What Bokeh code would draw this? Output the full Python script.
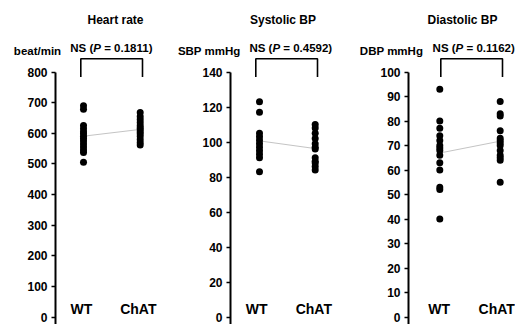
from bokeh.plotting import figure
from bokeh.models import Range1d, FixedTicker, Label, ColumnDataSource
from bokeh.layouts import row, column
from bokeh.embed import file_html
from bokeh.resources import INLINE
from bokeh.core.properties import value

# ---------------- data ----------------
categories = ["WT", "ChAT"]
titles = ["Heart rate", "Systolic BP", "Diastolic BP"]
units = ["beat/min", "SBP mmHg", "DBP mmHg"]
p_values = ["0.1811", "0.4592", "0.1162"]

hr_wt = [690, 678, 625, 615, 605, 598, 590, 583, 575, 565, 555, 545, 537, 505]
hr_chat = [668, 655, 645, 635, 625, 618, 612, 605, 598, 590, 580, 570, 562]
sbp_wt = [123, 117, 105, 103, 101, 99, 97, 95, 93, 91, 83]
sbp_chat = [110, 108, 105, 102, 99, 97, 96, 91, 89, 88, 86, 84]
dbp_wt = [93, 80, 77, 74, 72, 70, 69, 68, 66, 63, 60, 53, 52, 40]
dbp_chat = [88, 83, 82, 76, 73, 72, 71, 70, 68, 66, 65, 64, 55]

ticks_hr = [0, 100, 200, 300, 400, 500, 600, 700, 800]
ticks_sbp = [0, 20, 40, 60, 80, 100, 120, 140]
ticks_dbp = [0, 10, 20, 30, 40, 50, 60, 70, 80, 90, 100]

FONT = "Liberation Sans"
W = 515
TOP = 57          # height of the header strip
H = 324 - TOP     # height of the panels


def mean(v):
    return sum(v) / len(v)


def make_panel(wt, chat, ticks, fig_w, border_left, lay):
    ymax = ticks[-1]
    top_off = 71.5 - TOP
    zero_off = 316.5 - TOP
    k = (zero_off - top_off) / ymax
    y_end = ymax + top_off / k
    y_start = -(H - zero_off) / k
    fw = fig_w - border_left
    kx = lay["chat"] - lay["wt"]
    x_start = 1 - lay["wt"] / kx
    x_end = x_start + fw / kx

    def X(px):
        return x_start + px / kx

    def Y(py):  # image y -> data
        return ymax - ((py - TOP) - top_off) / k

    p = figure(width=fig_w, height=H, output_backend="svg", toolbar_location=None,
               x_range=Range1d(x_start, x_end), y_range=Range1d(y_start, y_end),
               x_axis_location=None, min_border_left=border_left, min_border_right=0,
               min_border_top=0, min_border_bottom=0)
    p.outline_line_color = None
    p.xgrid.visible = False
    p.ygrid.visible = False
    p.background_fill_color = "white"
    p.border_fill_color = "white"

    ax = p.yaxis[0]
    ax.ticker = FixedTicker(ticks=ticks)
    ax.bounds = (y_start, ymax)
    ax.axis_line_width = 2
    ax.axis_line_color = "black"
    ax.major_tick_line_width = 1.5
    ax.major_tick_out = 4
    ax.major_tick_in = 0
    ax.minor_tick_out = 0
    ax.minor_tick_in = 0
    ax.major_label_text_font = FONT
    ax.major_label_text_font_style = "bold"
    ax.major_label_text_font_size = "12px"
    ax.major_label_text_color = "black"
    ax.major_label_standoff = 4

    # mean line
    p.line(x=[1, 2], y=[mean(wt), mean(chat)], line_color="#c4c4c4", line_width=1)
    # dots
    p.scatter(x=[1] * len(wt), y=wt, size=7, fill_color="black", line_color=None)
    p.scatter(x=[2] * len(chat), y=chat, size=7, fill_color="black", line_color=None)

    # bracket
    bl, br = X(lay["bl"]), X(lay["br"])
    bt, bb = Y(58.2), Y(76.5)
    p.line(x=[bl, bl, br, br], y=[bb, bt, bt, bb], line_color="black", line_width=1.6)

    # category labels
    src = ColumnDataSource(dict(x=[X(lay["cwt"]), X(lay["cchat"])], y=[Y(308.5)] * 2,
                                t=categories))
    p.text(x="x", y="y", text="t", source=src, text_font=value(FONT),
           text_font_style="bold", text_font_size="14px", text_align="center",
           text_baseline="middle", text_color="black")
    return p


# header strip: titles, unit labels and NS (P = ...) texts, in pixel-like coordinates
head = figure(width=W, height=TOP, output_backend="svg", toolbar_location=None,
              x_range=Range1d(0, W), y_range=Range1d(TOP, 0),
              x_axis_location=None, y_axis_location=None,
              min_border_left=0, min_border_right=0, min_border_top=0, min_border_bottom=0)
head.outline_line_color = None
head.xgrid.visible = False
head.ygrid.visible = False

title_x = [115, 282.5, 462]
ns_x = [111.2, 290.3, 473.5]
unit_x = [37, 208.7, 391]

for i in range(3):
    head.add_layout(Label(x=title_x[i], y=19.5, text=titles[i], text_font=FONT,
                          text_font_style="bold", text_font_size="12px", text_align="center",
                          text_baseline="middle", text_color="black"))
    head.add_layout(Label(x=unit_x[i], y=50.5, text=units[i], text_font=FONT,
                          text_font_style="bold", text_font_size="11.5px", text_align="center",
                          text_baseline="middle", text_color="black"))
    fs = 11.5
    w1 = 2.0 * fs
    w2 = 0.667 * fs
    sp = 0.278 * fs
    w3 = 4.253 * fs
    left = ns_x[i] - (w1 + w2 + sp + w3) / 2
    parts = [("NS (", left, "bold"), ("P", left + w1, "bold italic"),
             ("= " + p_values[i] + ")", left + w1 + w2 + sp, "bold")]
    for txt, px, style in parts:
        head.add_layout(Label(x=px, y=47, text=txt, text_font=FONT,
                              text_font_style=style, text_font_size="11.5px", text_align="left",
                              text_baseline="middle", text_color="black"))

# horizontal positions in px relative to each panel's y axis
lay1 = dict(wt=28, chat=84.7, cwt=25.8, cchat=82.8, bl=25.3, br=87)
lay2 = dict(wt=29, chat=84.7, cwt=26.2, cchat=83.3, bl=25.3, br=87)
lay3 = dict(wt=31.3, chat=91.7, cwt=30.7, cchat=88.2, bl=32.3, br=94)

p1 = make_panel(hr_wt, hr_chat, ticks_hr, 170, 55, lay1)
p2 = make_panel(sbp_wt, sbp_chat, ticks_sbp, 176, 60, lay2)
p3 = make_panel(dbp_wt, dbp_chat, ticks_dbp, 169, 62, lay3)

layout = column(head, row(p1, p2, p3, spacing=0), spacing=0)
open("out.html", "w").write(file_html(layout, INLINE))
